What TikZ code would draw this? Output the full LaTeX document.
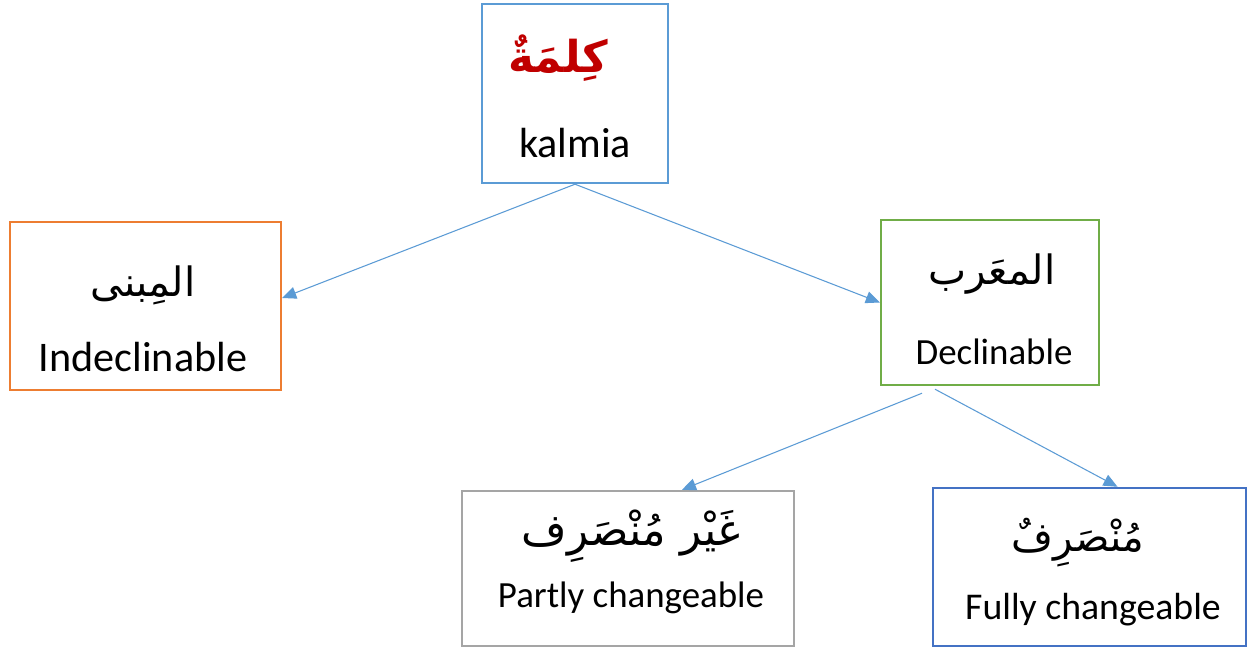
\documentclass[tikz,border=0pt]{standalone}
\usepackage{fontspec}
\setmainfont{Carlito}
\newfontfamily\arabicfont[Script=Arabic]{DejaVu Sans}
\TeXXeTstate=1
\usetikzlibrary{arrows.meta,calc}
\definecolor{kblue}{RGB}{91,155,213}
\definecolor{korange}{RGB}{237,125,49}
\definecolor{kgreen}{RGB}{112,173,71}
\definecolor{kgray}{RGB}{165,165,165}
\definecolor{kdblue}{RGB}{68,114,196}
\definecolor{kred}{RGB}{192,0,0}
\tikzset{
  box/.style={draw, line width=1.4pt, inner sep=0pt, fill=white},
  conn/.style={draw=kblue, line width=0.6pt, -{Triangle[length=0.28cm,width=0.24cm]}},
  lbl/.style={inner sep=1pt, anchor=center},
}
\begin{document}
\begin{tikzpicture}[x=0.02cm,y=-0.02cm]
\useasboundingbox[fill=white] (0,0) rectangle (1250,648);
% boxes
\node[box, draw=kblue, minimum width=3.72cm, minimum height=3.58cm] (k) at (575,93.5) {};
\node[box, draw=korange, minimum width=5.42cm, minimum height=3.36cm] (ind) at (145.5,306) {};
\node[box, draw=kgreen, minimum width=4.36cm, minimum height=3.3cm] (dec) at (990,302.5) {};
\node[box, draw=kgray, minimum width=6.64cm, minimum height=3.1cm] (part) at (628,568.5) {};
\node[box, draw=kdblue, minimum width=6.26cm, minimum height=3.16cm] (full) at (1089.5,567) {};
% texts
\node[lbl, text=kred, font=\arabicfont\bfseries\fontsize{25}{30}\selectfont] (kar) at (558,58) {\beginR كِلمَةٌ\endR};
\node[lbl, font=\fontsize{24}{28}\selectfont] (ken) at (575,143) {kalmia};
\node[lbl, font=\arabicfont\fontsize{23}{28}\selectfont] (iar) at (143,285) {\beginR المِبنى\endR};
\node[lbl, font=\fontsize{24}{28}\selectfont] (ien) at (143,357) {Indeclinable};
\node[lbl, font=\arabicfont\fontsize{23}{28}\selectfont] (dar) at (992,274) {\beginR المعَرب\endR};
\node[lbl, font=\fontsize{21}{25}\selectfont] (den) at (994,352) {Declinable};
\node[lbl, font=\arabicfont\fontsize{25}{30}\selectfont] (par) at (631,536) {\beginR غَيْر مُنْصَرِف\endR};
\node[lbl, font=\fontsize{21}{25}\selectfont] (pen) at (631,598) {Partly changeable};
\node[lbl, font=\arabicfont\fontsize{23}{28}\selectfont] (far) at (1078,543) {\beginR مُنْصَرِفٌ\endR};
\node[lbl, font=\fontsize{21.5}{25}\selectfont] (fen) at (1093,610) {Fully changeable};
% connectors
\draw[conn] (k.south) -- ($(ind.east)+(0,-8)$);
\draw[conn] (k.south) -- (dec.west);
\draw[conn] ($(dec.south)+(-68,7)$) -- ($(part.north)+(54,0)$);
\draw[conn] ($(dec.south)+(-55,3)$) -- ($(full.north)+(28,0)$);
\end{tikzpicture}
\end{document}
